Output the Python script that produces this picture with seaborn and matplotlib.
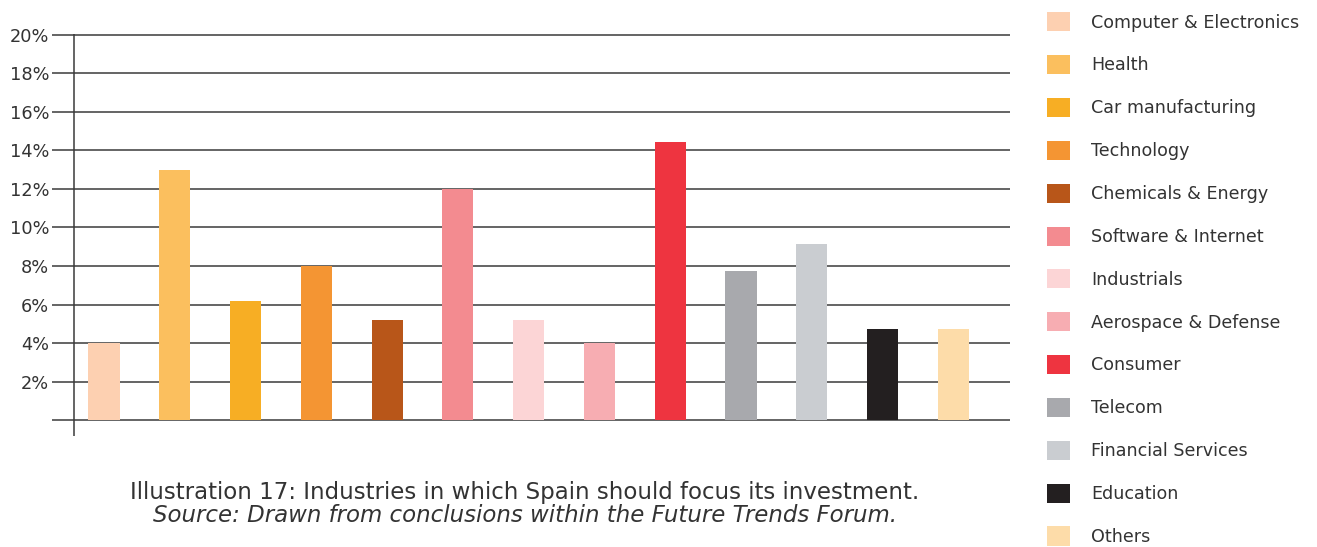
import matplotlib
matplotlib.use("Agg")
import matplotlib.pyplot as plt
import seaborn as sns
import pandas as pd

categories = ["Computer & Electronics", "Health", "Car manufacturing", "Technology",
              "Chemicals & Energy", "Software & Internet", "Industrials",
              "Aerospace & Defense", "Consumer", "Telecom", "Financial Services",
              "Education", "Others"]
values = [4.0, 13.0, 6.2, 8.0, 5.2, 12.0, 5.2, 4.0, 14.45, 7.75, 9.15, 4.75, 4.75]
colors = ["#FDD0B1", "#FBBF5E", "#F7AE24", "#F49533", "#B85619", "#F38B90",
          "#FCD5D6", "#F7ADB2", "#EE3440", "#A8A9AD", "#CACDD1", "#231F20", "#FDDCA9"]
yticks = [0, 2, 4, 6, 8, 10, 12, 14, 16, 18, 20]
ytick_labels = [""] + [f"{v}%" for v in yticks[1:]]

sns.set_theme(style="white")
plt.rcParams["font.family"] = ["DejaVu Sans"]
txt = "#333333"

W, H = 1317, 547
fig = plt.figure(figsize=(W / 100, H / 100), dpi=100)
ax = fig.add_axes([52 / W, (H - 436) / H, (1010 - 52) / W, (436 - 34) / H])

df = pd.DataFrame({"cat": categories, "val": values})
sns.barplot(data=df, x="cat", y="val", hue="cat", palette=colors, hue_order=categories,
            order=categories, dodge=False, width=0.44, saturation=1, legend=True, ax=ax,
            zorder=3, linewidth=0, edgecolor="none")

ax.set_xlim(-0.735, 12.8)
ax.set_ylim(-0.83, 20.05)
ax.set_yticks(yticks)
ax.set_yticklabels(ytick_labels, fontsize=12.8, color=txt)
ax.set_xticks([])
ax.set_xlabel("")
ax.set_ylabel("")
for s in ax.spines.values():
    s.set_visible(False)
ax.tick_params(axis="y", length=0, pad=2)
for y in yticks:
    ax.axhline(y, color="#3a3a3a", lw=1.1, zorder=1)
ax.axvline(-0.42, ymin=0, ymax=1, color="#3a3a3a", lw=1.1, zorder=4)

handles, labels = ax.get_legend_handles_labels()
ax.get_legend().remove()
fig.legend(handles, labels, loc="upper left", bbox_to_anchor=(1035 / W, 1.0),
           frameon=False, fontsize=12.6, handlelength=1.3, handleheight=1.3,
           handletextpad=1.2, labelspacing=1.34, borderaxespad=0.3,
           labelcolor=txt)

fig.text(525 / W, 1 - 493 / H, "Illustration 17: Industries in which Spain should focus its investment.",
         ha="center", va="center", fontsize=16.5, color=txt)
fig.text(525 / W, 1 - 516 / H, "Source: Drawn from conclusions within the Future Trends Forum.",
         ha="center", va="center", fontsize=16.5, color=txt, style="italic")

fig.savefig("out.png", dpi=100)
